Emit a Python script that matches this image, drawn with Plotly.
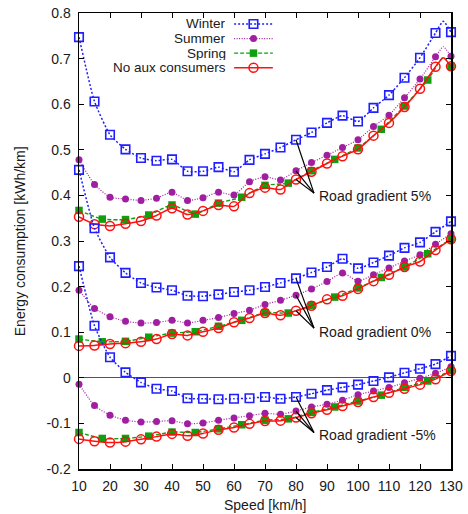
import plotly.graph_objects as go

# ---------------- data ----------------
speeds = [10, 15, 20, 25, 30, 35, 40, 45, 50, 55, 60, 65, 70, 75, 80, 85, 90, 95, 100, 105, 110, 115, 120, 125, 130]
spring_speeds = [10, 17.5, 25, 32.5, 40, 47.5, 55, 62.5, 70, 77.5, 85, 92.5, 100, 107.5, 115, 122.5, 130]
peak_speed = 127.5

winter_5 = [0.747, 0.606, 0.533, 0.501, 0.482, 0.476, 0.479, 0.453, 0.453, 0.462, 0.452, 0.478, 0.491, 0.505, 0.522, 0.538, 0.559, 0.575, 0.562, 0.592, 0.620, 0.658, 0.702, 0.756, 0.758]
summer_5 = [0.478, 0.424, 0.396, 0.392, 0.389, 0.394, 0.407, 0.389, 0.395, 0.407, 0.401, 0.430, 0.441, 0.434, 0.454, 0.472, 0.488, 0.505, 0.522, 0.551, 0.576, 0.614, 0.655, 0.704, 0.705]
noaux_5 = [0.353, 0.337, 0.333, 0.338, 0.344, 0.356, 0.372, 0.358, 0.366, 0.379, 0.376, 0.405, 0.417, 0.413, 0.435, 0.452, 0.470, 0.486, 0.501, 0.531, 0.559, 0.594, 0.634, 0.682, 0.683]
spring_5 = [0.367, 0.348, 0.347, 0.357, 0.379, 0.359, 0.383, 0.396, 0.422, 0.427, 0.454, 0.479, 0.504, 0.545, 0.596, 0.653, 0.683]
peak_5 = {"Winter": 0.782, "Summer": 0.726, "Spring": 0.703, "No aux consumers": 0.702}

winter_0 = [0.456, 0.328, 0.264, 0.230, 0.208, 0.198, 0.192, 0.180, 0.179, 0.183, 0.188, 0.192, 0.199, 0.208, 0.218, 0.231, 0.243, 0.261, 0.240, 0.253, 0.268, 0.285, 0.297, 0.320, 0.343]
summer_0 = [0.192, 0.152, 0.134, 0.124, 0.120, 0.121, 0.126, 0.120, 0.126, 0.132, 0.141, 0.148, 0.161, 0.170, 0.181, 0.195, 0.211, 0.230, 0.212, 0.226, 0.241, 0.256, 0.270, 0.293, 0.316]
noaux_0 = [0.070, 0.071, 0.074, 0.076, 0.079, 0.085, 0.096, 0.093, 0.101, 0.109, 0.122, 0.131, 0.142, 0.137, 0.147, 0.158, 0.172, 0.180, 0.195, 0.212, 0.226, 0.243, 0.255, 0.280, 0.304]
spring_0 = [0.085, 0.079, 0.080, 0.089, 0.098, 0.101, 0.113, 0.126, 0.143, 0.142, 0.159, 0.177, 0.197, 0.220, 0.243, 0.272, 0.304]

winter_m5 = [0.245, 0.114, 0.045, 0.012, -0.010, -0.024, -0.029, -0.045, -0.046, -0.047, -0.046, -0.045, -0.042, -0.046, -0.042, -0.035, -0.027, -0.021, -0.015, -0.007, 0.001, 0.011, 0.020, 0.030, 0.048]
summer_m5 = [-0.014, -0.061, -0.082, -0.093, -0.097, -0.096, -0.094, -0.101, -0.099, -0.093, -0.088, -0.083, -0.078, -0.080, -0.073, -0.064, -0.058, -0.049, -0.037, -0.029, -0.021, -0.011, -0.001, 0.010, 0.024]
noaux_m5 = [-0.134, -0.139, -0.142, -0.140, -0.135, -0.129, -0.123, -0.127, -0.122, -0.114, -0.109, -0.101, -0.095, -0.094, -0.087, -0.078, -0.070, -0.062, -0.053, -0.042, -0.033, -0.024, -0.015, -0.003, 0.015]
spring_m5 = [-0.120, -0.133, -0.133, -0.128, -0.119, -0.120, -0.112, -0.103, -0.093, -0.090, -0.076, -0.064, -0.051, -0.038, -0.021, -0.007, 0.016]

series_names = ["Winter", "Summer", "Spring", "No aux consumers"]
gradient_labels = ["Road gradient 5%", "Road gradient 0%", "Road gradient -5%"]
x_ticks = [10, 20, 30, 40, 50, 60, 70, 80, 90, 100, 110, 120, 130]
y_ticks = [0.8, 0.7, 0.6, 0.5, 0.4, 0.3, 0.2, 0.1, 0, -0.1, -0.2]
y_tick_text = ["0.8", "0.7", "0.6", "0.5", "0.4", "0.3", "0.2", "0.1", "0", "-0.1", "-0.2"]
arrow_speed = 80

# ---------------- styles ----------------
FONT = "Liberation Sans, Arial, Helvetica, sans-serif"
TXT = "#1a1a1a"
styles = {
    "Winter": dict(color="#1f1fff", dash="2px,2px", width=1.5,
                   symbol="square-open", size=8.5, mlw=1.6),
    "Summer": dict(color="#a01fa0", dash="1px,1.5px", width=1.2,
                   symbol="circle", size=7, mlw=0),
    "Spring": dict(color="#0ea00e", dash="4px,2px", width=1.4,
                   symbol="square", size=7.5, mlw=0),
    "No aux consumers": dict(color="#ff1010", dash="solid", width=1.5,
                             symbol="circle-open", size=9, mlw=1.5),
}

groups = [
    {"Winter": (speeds, winter_5), "Summer": (speeds, summer_5),
     "Spring": (spring_speeds, spring_5), "No aux consumers": (speeds, noaux_5), "peak": peak_5},
    {"Winter": (speeds, winter_0), "Summer": (speeds, summer_0),
     "Spring": (spring_speeds, spring_0), "No aux consumers": (speeds, noaux_0), "peak": None},
    {"Winter": (speeds, winter_m5), "Summer": (speeds, summer_m5),
     "Spring": (spring_speeds, spring_m5), "No aux consumers": (speeds, noaux_m5), "peak": None},
]

fig = go.Figure()

for g in groups:
    for name in series_names:
        xs, ys = g[name]
        st = styles[name]
        lx, ly = list(xs), list(ys)
        if g["peak"] is not None:
            idx = len(lx) - 1
            lx.insert(idx, peak_speed)
            ly.insert(idx, g["peak"][name])
        fig.add_trace(go.Scatter(
            x=lx, y=ly, mode="lines", showlegend=False, hoverinfo="skip",
            line=dict(color=st["color"], width=st["width"], dash=st["dash"],
                      shape="spline", smoothing=0.5),
            cliponaxis=False,
        ))
        fig.add_trace(go.Scatter(
            x=xs, y=ys, mode="markers", showlegend=False, name=name,
            marker=dict(symbol=st["symbol"], size=st["size"], color=st["color"],
                        line=dict(color=st["color"], width=st["mlw"])),
            cliponaxis=False,
        ))

# ---------------- custom legend (gnuplot style: text left, sample right) ----------------
leg_rows = [0.976, 0.944, 0.912, 0.880]
annotations = []
for name, yrow in zip(series_names, leg_rows):
    st = styles[name]
    fig.add_trace(go.Scatter(
        x=[0.417, 0.521], y=[yrow, yrow], xaxis="x2", yaxis="y2", mode="lines",
        showlegend=False, hoverinfo="skip",
        line=dict(color=st["color"], width=st["width"], dash=st["dash"]),
    ))
    fig.add_trace(go.Scatter(
        x=[0.469], y=[yrow], xaxis="x2", yaxis="y2", mode="markers",
        showlegend=False, hoverinfo="skip", cliponaxis=False,
        marker=dict(symbol=st["symbol"], size=st["size"], color=st["color"],
                    line=dict(color=st["color"], width=st["mlw"])),
    ))
    annotations.append(dict(
        x=0.397, y=yrow, xref="paper", yref="paper", text=name, showarrow=False,
        xanchor="right", yanchor="middle", height=13, borderpad=0,
        font=dict(family=FONT, size=13.5, color=TXT)))

# ---------------- gradient labels with pointer lines ----------------
label_pos = [(0.399, 0.405), (0.100, 0.109), (-0.125, -0.120)]  # (text y, pointer tail y)
shapes = []
ai = speeds.index(arrow_speed)
for g, lab, (ty, tail_y) in zip(groups, gradient_labels, label_pos):
    for name in ["Winter", "Summer", "No aux consumers"]:
        xs, ys = g[name]
        shapes.append(dict(type="line", xref="x", yref="y", x0=85.8, y0=tail_y,
                           x1=xs[ai], y1=ys[ai], line=dict(color="black", width=1.2),
                           layer="above"))
    annotations.append(dict(
        x=86.9, y=ty, xref="x", yref="y", text=lab, showarrow=False,
        xanchor="left", yanchor="middle", font=dict(family=FONT, size=14, color=TXT)))

# axis titles as annotations (fixed positions like the reference)
annotations.append(dict(
    x=0.5, y=-0.08, xref="paper", yref="paper", text="Speed [km/h]", showarrow=False,
    xanchor="center", yanchor="middle", font=dict(family=FONT, size=14, color=TXT)))
annotations.append(dict(
    x=-0.158, y=0.5, xref="paper", yref="paper", text="Energy consumption [kWh/km]",
    showarrow=False, textangle=-90, xanchor="center", yanchor="middle",
    font=dict(family=FONT, size=14, color=TXT)))

fig.update_layout(
    width=468, height=514,
    margin=dict(l=79, r=17, t=13, b=45, autoexpand=False),
    paper_bgcolor="white", plot_bgcolor="white",
    font=dict(family=FONT, size=14, color=TXT),
    showlegend=False,
    hovermode=False,
    annotations=annotations,
    shapes=shapes,
    xaxis=dict(
        range=[10, 130], tickvals=x_ticks, ticks="inside", ticklen=5, tickwidth=1,
        tickcolor="black", showline=True, linecolor="black", linewidth=1.5,
        mirror="ticks", showgrid=False, zeroline=False, automargin=False,
        tickfont=dict(size=14, color=TXT), ticklabelstandoff=4,
    ),
    yaxis=dict(
        range=[-0.2, 0.8], tickvals=y_ticks, ticktext=y_tick_text, ticks="inside",
        ticklen=5, tickwidth=1, tickcolor="black", showline=True, linecolor="black",
        linewidth=1.5, mirror="ticks", showgrid=False, automargin=False,
        zeroline=True, zerolinecolor="#555", zerolinewidth=1.3,
        tickfont=dict(size=14, color=TXT), ticklabelstandoff=4,
    ),
    xaxis2=dict(overlaying="x", range=[0, 1], visible=False, fixedrange=True, automargin=False),
    yaxis2=dict(overlaying="y", range=[0, 1], visible=False, fixedrange=True, automargin=False),
)

# remove the default 8px page margin so the 468x514 figure fills the window exactly
fig.write_html("out.html",
               config={"displayModeBar": False, "staticPlot": True},
               post_script="document.body.style.margin='0px';document.body.style.overflow='hidden';")
